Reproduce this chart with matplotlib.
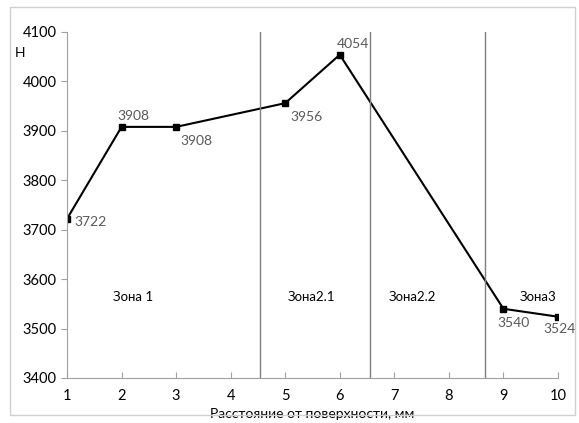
import matplotlib.pyplot as plt
from matplotlib.patches import Rectangle

plt.rcParams['font.family'] = ['Lato', 'DejaVu Sans']

# data
distance = [1, 2, 3, 5, 6, 9, 10]
hardness = [3722, 3908, 3908, 3956, 4054, 3540, 3524]
label_offsets = [(5, -5), (-3, 5), (3, -13), (4, -13), (-2, 5), (-4, -13), (-10.5, -12)]

zone_bounds = [4.53, 6.56, 8.67]
zone_names = ['Зона 1', 'Зона2.1', 'Зона2.2', 'Зона3']
zone_x = [2.21, 5.49, 7.34, 9.64]
zone_y = 3564

fig = plt.figure(figsize=(5.79, 4.23), dpi=100)
fig.patches.append(Rectangle((0.017, 0.018), 0.976, 0.965, transform=fig.transFigure,
                             fill=False, edgecolor='#d0d0d0', linewidth=1))
ax = fig.add_axes([0.1157, 0.1064, 0.848, 0.818])

ax.plot(distance, hardness, color='black', linewidth=1.5, marker='s', markersize=4)
for x, y, off in zip(distance, hardness, label_offsets):
    ax.annotate(str(y), (x, y), xytext=off, textcoords='offset points',
                fontsize=10, color='#595959')

for b in zone_bounds:
    ax.axvline(b, color='#7f7f7f', linewidth=1)
for name, x in zip(zone_names, zone_x):
    ax.text(x, zone_y, name, fontsize=9.5, ha='center', va='center')

ax.set_xlim(1, 10)
ax.set_ylim(3400, 4100)
ax.set_xticks(range(1, 11))
ax.set_yticks(range(3400, 4101, 100))
for s in ['top', 'right']:
    ax.spines[s].set_visible(False)
for s in ['left', 'bottom']:
    ax.spines[s].set_color('#a0a0a0')
ax.tick_params(axis='y', colors='#a0a0a0', labelcolor='black', labelsize=10.5, length=4)
ax.tick_params(axis='x', direction='in', colors='#a0a0a0', labelcolor='black',
               labelsize=10.5, length=4, pad=8)
ax.set_xlabel('Расстояние от поверхности, мм', fontsize=10, va='center')
ax.xaxis.set_label_coords(0.5, -0.105)
fig.text(0.025, 0.865, 'H', fontsize=10)

fig.savefig('out.png', dpi=100)
